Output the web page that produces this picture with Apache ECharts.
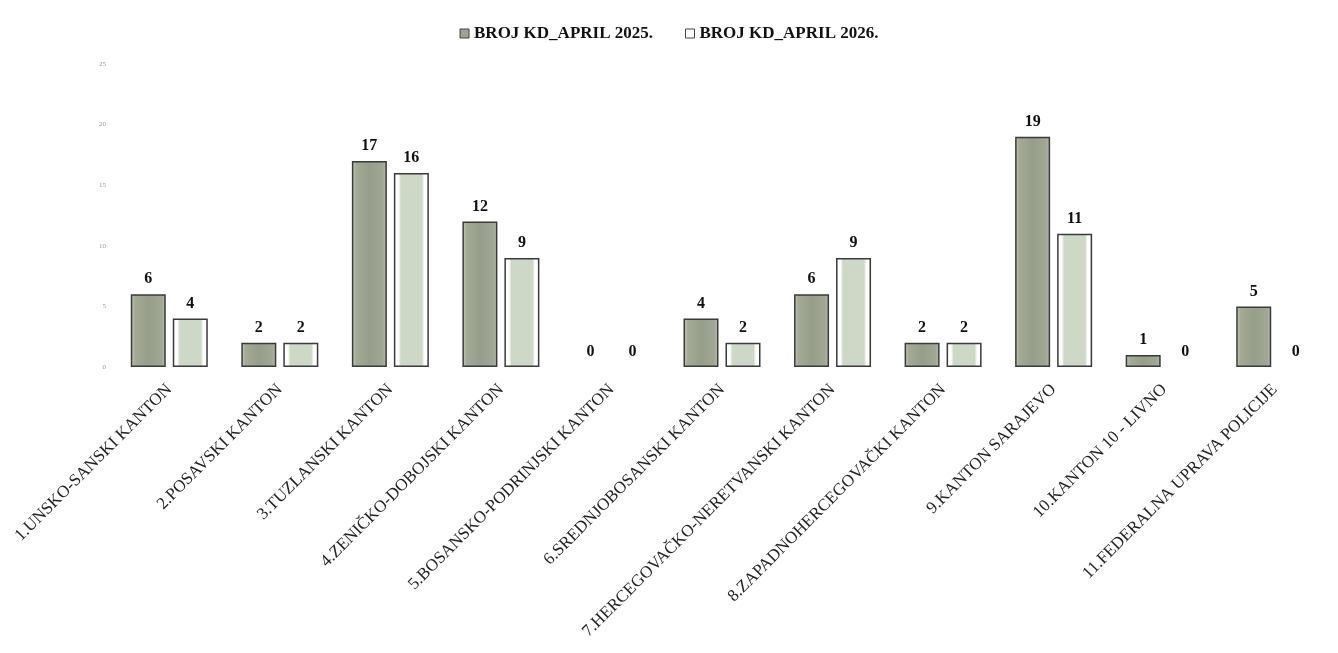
<!DOCTYPE html>
<html>
<head>
<meta charset="utf-8">
<script src="https://cdn.jsdelivr.net/npm/echarts@6/dist/echarts.min.js"></script>
<style>html,body{margin:0;padding:0;background:#fff;}#c{width:1338px;height:653px;}</style>
</head>
<body>
<div id="c"></div>
<script>
const categories = [
  "1.UNSKO-SANSKI KANTON",
  "2.POSAVSKI KANTON",
  "3.TUZLANSKI KANTON",
  "4.ZENIČKO-DOBOJSKI KANTON",
  "5.BOSANSKO-PODRINJSKI KANTON",
  "6.SREDNJOBOSANSKI KANTON",
  "7.HERCEGOVAČKO-NERETVANSKI KANTON",
  "8.ZAPADNOHERCEGOVAČKI KANTON",
  "9.KANTON SARAJEVO",
  "10.KANTON 10 - LIVNO",
  "11.FEDERALNA UPRAVA POLICIJE"
];
const series2025 = [6, 2, 17, 12, 0, 4, 6, 2, 19, 1, 5];
const series2026 = [4, 2, 16, 9, 0, 2, 9, 2, 11, 0, 0];
const seriesNames = ["BROJ KD_APRIL 2025.", "BROJ KD_APRIL 2026."];

const chart = echarts.init(document.getElementById('c'));
const serif = "'Liberation Serif', 'DejaVu Serif', serif";
const labelStyle = {
  show: true, position: 'top', distance: 7,
  fontFamily: serif, fontWeight: 'bold', fontSize: 16, color: '#111'
};
// zero-valued bars get no outline (as in the reference)
const withZeroStyle = arr => arr.map(v => v === 0 ? { value: v, itemStyle: { borderWidth: 0 } } : v);

chart.setOption({
  animation: false,
  backgroundColor: '#ffffff',
  legend: {
    top: 20, left: 'center', itemWidth: 9, itemHeight: 9, itemGap: 32,
    textStyle: { fontFamily: serif, fontWeight: 'bold', fontSize: 17, color: '#111' },
    data: [
      { name: seriesNames[0], icon: 'rect', itemStyle: { color: '#9ea592', borderColor: '#444', borderWidth: 1 } },
      { name: seriesNames[1], icon: 'rect', itemStyle: { color: '#ffffff', borderColor: '#444', borderWidth: 1 } }
    ]
  },
  grid: { left: 114, right: 8, top: 64, bottom: 286, containLabel: false },
  xAxis: {
    type: 'category', data: categories,
    axisLine: { show: false }, axisTick: { show: false },
    axisLabel: { rotate: 45, interval: 0, margin: 20, fontFamily: serif, fontSize: 17, color: '#222' }
  },
  yAxis: {
    type: 'value', min: 0, max: 25, interval: 5,
    splitLine: { show: false }, axisLine: { show: false }, axisTick: { show: false },
    axisLabel: { fontSize: 7, color: '#999', margin: 8, fontFamily: serif }
  },
  series: [
    {
      name: seriesNames[0], type: 'bar', data: withZeroStyle(series2025), barWidth: 35, barGap: '20%',
      itemStyle: {
        color: new echarts.graphic.LinearGradient(0, 0, 1, 0, [
          { offset: 0, color: '#c6ccbb' }, { offset: 0.12, color: '#a3aa96' },
          { offset: 0.5, color: '#969e8a' }, { offset: 0.88, color: '#a0a794' }, { offset: 1, color: '#b8bead' }
        ]),
        borderColor: '#3a3a3a', borderWidth: 1.5
      },
      label: labelStyle
    },
    {
      name: seriesNames[1], type: 'bar', data: withZeroStyle(series2026), barWidth: 35,
      itemStyle: {
        color: new echarts.graphic.LinearGradient(0, 0, 1, 0, [
          { offset: 0, color: '#ffffff' }, { offset: 0.13, color: '#ffffff' },
          { offset: 0.2, color: '#cdd8c6' }, { offset: 0.8, color: '#cdd8c6' },
          { offset: 0.87, color: '#ffffff' }, { offset: 1, color: '#ffffff' }
        ]),
        borderColor: '#3a3a3a', borderWidth: 1.5
      },
      label: labelStyle
    }
  ]
});
</script>
</body>
</html>
